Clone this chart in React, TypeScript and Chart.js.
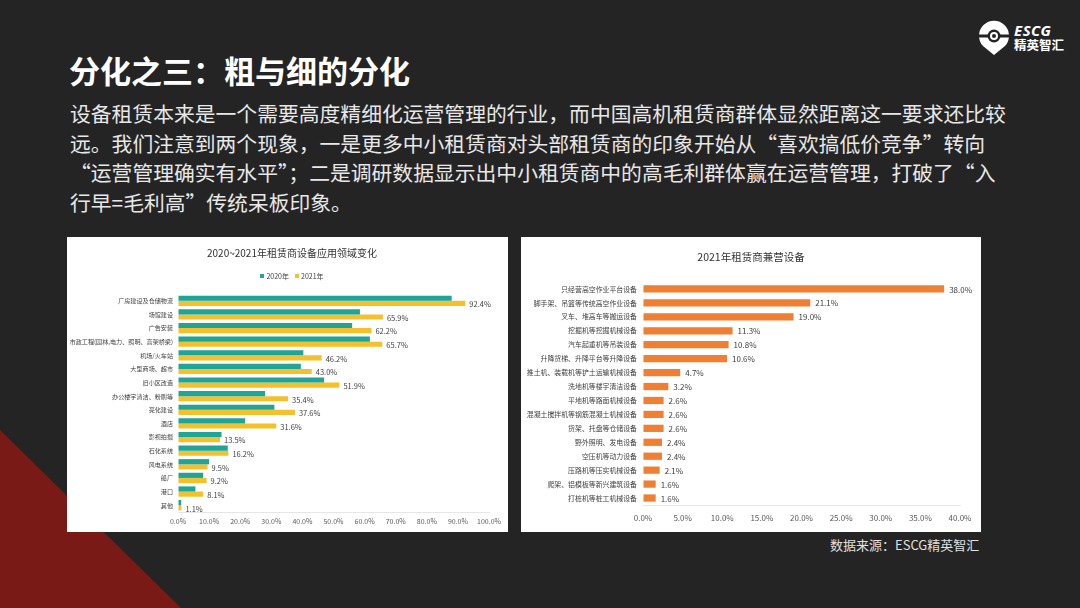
import React, { useEffect, useRef } from 'react';
import { Chart, registerables } from 'chart.js';

Chart.register(...registerables);

// ---- Left chart data ----
const fieldCategories = [
  '厂房建设及仓储物流',
  '场馆建设',
  '广告安装',
  '市政工程(园林,电力、照明、高架桥梁)',
  '机场/火车站',
  '大型商场、超市',
  '旧小区改造',
  '办公楼宇清洁、粉刷等',
  '亮化建设',
  '酒店',
  '影视拍摄',
  '石化系统',
  '风电系统',
  '船厂',
  '港口',
  '其他',
];
const field2020 = [88, 58.5, 56, 61.7, 40.3, 39.5, 47, 28, 31, 21.6, 14, 16, 10, 8.1, 5.6, 1];
const field2021 = [92.4, 65.9, 62.2, 65.7, 46.2, 43.0, 51.9, 35.4, 37.6, 31.6, 13.5, 16.2, 9.5, 9.2, 8.1, 1.1];
const seriesNames = ['2020年', '2021年'];

// ---- Right chart data ----
const equipCategories = [
  '只经营高空作业平台设备',
  '脚手架、吊篮等传统高空作业设备',
  '叉车、堆高车等搬运设备',
  '挖掘机等挖掘机械设备',
  '汽车起重机等吊装设备',
  '升降货梯、升降平台等升降设备',
  '推土机、装载机等铲土运输机械设备',
  '洗地机等楼宇清洁设备',
  '平地机等路面机械设备',
  '混凝土搅拌机等钢筋混凝土机械设备',
  '货架、托盘等仓储设备',
  '野外照明、发电设备',
  '空压机等动力设备',
  '压路机等压实机械设备',
  '爬架、铝模板等新兴建筑设备',
  '打桩机等桩工机械设备',
];
const equipValues = [38.0, 21.1, 19.0, 11.3, 10.8, 10.6, 4.7, 3.2, 2.6, 2.6, 2.6, 2.4, 2.4, 2.1, 1.6, 1.6];

const FONT = '"Noto Sans CJK SC", "Noto Sans", sans-serif';
const TEAL = '#1fa597';
const YELLOW = '#f4c12c';
const ORANGE = '#ee7f33';

const pct = (v: any) => Number(v).toFixed(1) + '%';

function labelPlugin(datasetIndex: number, size: number, dx: number, dy: number) {
  return {
    id: 'valueLabels' + datasetIndex,
    afterDatasetsDraw(chart: any) {
      const ctx = chart.ctx;
      const meta = chart.getDatasetMeta(datasetIndex);
      const data = chart.data.datasets[datasetIndex].data;
      ctx.save();
      ctx.font = `${size}px ${FONT}`;
      ctx.fillStyle = '#404040';
      ctx.textAlign = 'left';
      ctx.textBaseline = 'middle';
      meta.data.forEach((bar: any, i: number) => {
        ctx.fillText(pct(data[i]), bar.x + dx, bar.y + dy);
      });
      ctx.restore();
    },
  };
}

function LeftChart() {
  const ref = useRef<HTMLCanvasElement>(null);
  useEffect(() => {
    const chart = new Chart(ref.current!, {
      type: 'bar',
      data: {
        labels: fieldCategories,
        datasets: [
          { label: seriesNames[0], data: field2020, backgroundColor: TEAL, categoryPercentage: 0.76, barPercentage: 1 },
          { label: seriesNames[1], data: field2021, backgroundColor: YELLOW, categoryPercentage: 0.76, barPercentage: 1 },
        ],
      },
      options: {
        indexAxis: 'y',
        animation: false,
        responsive: false,
        layout: { padding: { top: 57, right: 19, left: 0, bottom: 0 } },
        plugins: { legend: { display: false }, title: { display: false }, tooltip: { enabled: false } },
        scales: {
          x: {
            min: 0,
            max: 100,
            ticks: { stepSize: 10, callback: pct, font: { size: 7, family: FONT }, color: '#595959', padding: 5 },
            grid: { color: 'rgba(0,0,0,0)', drawTicks: false },
            border: { display: true, color: '#e6e6e6' },
            afterFit: (s: any) => { s.height = 20; },
          },
          y: {
            ticks: { font: { size: 6.1, family: FONT }, color: '#404040', padding: 5, autoSkip: false },
            grid: { display: false, drawTicks: false },
            border: { display: false },
            afterFit: (s: any) => { s.width = 111; },
          },
        },
      },
      plugins: [labelPlugin(1, 7.5, 4, 1)],
    } as any);
    return () => chart.destroy();
  }, []);
  return <canvas ref={ref} width={441} height={295} style={{ position: 'absolute', left: 0, top: 0, width: 441, height: 295 }} />;
}

function RightChart() {
  const ref = useRef<HTMLCanvasElement>(null);
  useEffect(() => {
    const chart = new Chart(ref.current!, {
      type: 'bar',
      data: {
        labels: equipCategories,
        datasets: [
          { label: '2021年', data: equipValues, backgroundColor: ORANGE, categoryPercentage: 1, barPercentage: 0.52 },
        ],
      },
      options: {
        indexAxis: 'y',
        animation: false,
        responsive: false,
        layout: { padding: { top: 45, right: 21, left: 0, bottom: 0 } },
        plugins: { legend: { display: false }, title: { display: false }, tooltip: { enabled: false } },
        scales: {
          x: {
            min: 0,
            max: 40,
            ticks: { stepSize: 5, callback: pct, font: { size: 8, family: FONT }, color: '#595959', padding: 8 },
            grid: { color: 'rgba(0,0,0,0)', drawTicks: false },
            border: { display: true, color: '#e6e6e6' },
            afterFit: (s: any) => { s.height = 27; },
          },
          y: {
            ticks: { font: { size: 6.9, family: FONT }, color: '#404040', padding: 6, autoSkip: false },
            grid: { display: false, drawTicks: false },
            border: { display: false },
            afterFit: (s: any) => { s.width = 122; },
          },
        },
      },
      plugins: [labelPlugin(0, 8, 5, 0.5)],
    } as any);
    return () => chart.destroy();
  }, []);
  return <canvas ref={ref} width={460} height={295} style={{ position: 'absolute', left: 0, top: 0, width: 460, height: 295 }} />;
}

const paraLines = [
  '设备租赁本来是一个需要高度精细化运营管理的行业，而中国高机租赁商群体显然距离这一要求还比较',
  '远。我们注意到两个现象，一是更多中小租赁商对头部租赁商的印象开始从“喜欢搞低价竞争”转向',
  '“运营管理确实有水平”；二是调研数据显示出中小租赁商中的高毛利群体赢在运营管理，打破了“入',
  '行早=毛利高”传统呆板印象。',
];

export default function App() {
  useEffect(() => {
    document.body.style.margin = '0';
  }, []);
  return (
    <div style={{ position: 'fixed', left: 0, top: 0, width: 1080, height: 608, background: '#242424', overflow: 'hidden', fontFamily: FONT }}>
      <svg width={1080} height={608} style={{ position: 'absolute', left: 0, top: 0 }}>
        <polygon points="0,430 0,608 181,608" fill="#7a1a16" />
        <path d="M994,55 L983,46 A15,15 0 1 1 1005,46 Z" fill="#ffffff" />
        <rect x={979} y={34.5} width={30} height={3} fill="#242424" />
        <circle cx={994} cy={36} r={6.5} fill="#242424" />
        <circle cx={994} cy={36} r={4} fill="#ffffff" />
        <circle cx={994} cy={36} r={2} fill="#242424" />
      </svg>
      <div style={{ position: 'absolute', left: 1014, top: 21, color: '#fff', fontWeight: 700, fontStyle: 'italic', fontSize: 15, lineHeight: '18px', fontFamily: '"Noto Sans", sans-serif', letterSpacing: 0.5 }}>ESCG</div>
      <div style={{ position: 'absolute', left: 1014, top: 37, color: '#fff', fontWeight: 700, fontSize: 12.5, lineHeight: '15px' }}>精英智汇</div>

      <div style={{ position: 'absolute', left: 69, top: 50, color: '#ffffff', fontWeight: 700, fontSize: 31, lineHeight: '40px', whiteSpace: 'nowrap' }}>分化之三：粗与细的分化</div>
      {paraLines.map((t, i) => (
        <div key={i} style={{ position: 'absolute', left: 70, top: 99 + i * 29.5, color: '#e8e8e8', fontSize: 20.8, lineHeight: '29.5px', whiteSpace: 'nowrap' }}>{t}</div>
      ))}

      <div style={{ position: 'absolute', left: 67, top: 237, width: 441, height: 295, background: '#ffffff' }}>
        <LeftChart />
        <div style={{ position: 'absolute', left: 0, top: 9, width: 441, textAlign: 'center', fontSize: 10, lineHeight: '14px', color: '#333', paddingLeft: 9, boxSizing: 'border-box' }}>2020~2021年租赁商设备应用领域变化</div>
        <div style={{ position: 'absolute', left: 0, top: 34, width: 441, display: 'flex', justifyContent: 'center', gap: 6, fontSize: 7, lineHeight: '10px', color: '#404040', paddingLeft: 9, boxSizing: 'border-box' }}>
          {seriesNames.map((n, i) => (
            <span key={n} style={{ display: 'flex', alignItems: 'center', gap: 2 }}>
              <span style={{ width: 4, height: 4, background: i === 0 ? TEAL : YELLOW, display: 'inline-block' }} />
              {n}
            </span>
          ))}
        </div>
      </div>

      <div style={{ position: 'absolute', left: 521, top: 237, width: 460, height: 295, background: '#ffffff' }}>
        <RightChart />
        <div style={{ position: 'absolute', left: 0, top: 13, width: 460, textAlign: 'center', fontSize: 10.5, lineHeight: '14px', color: '#333' }}>2021年租赁商兼营设备</div>
      </div>

      <div style={{ position: 'absolute', left: 830, top: 536, color: '#e0e0e0', fontSize: 13, lineHeight: '18px', whiteSpace: 'nowrap' }}>数据来源：ESCG精英智汇</div>
    </div>
  );
}
